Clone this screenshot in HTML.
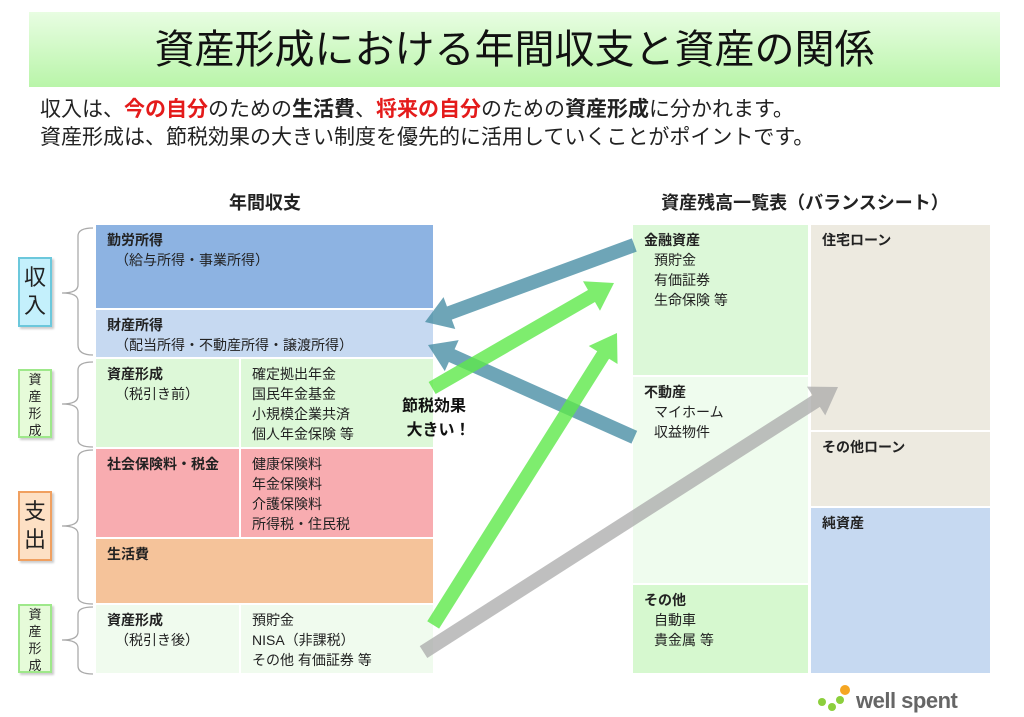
<!DOCTYPE html>
<html><head><meta charset="utf-8"><style>
body{margin:0;width:1024px;height:717px;background:#fff;position:relative;overflow:hidden;font-family:"Liberation Sans","Noto Sans CJK JP",sans-serif;color:#222}
.a{position:absolute;box-sizing:border-box}
.t{font-size:14px;line-height:20px;padding:5px 0 0 11px}
.t b{display:block}
.t span{display:block;padding-left:8px}
.c{font-size:14px;line-height:20px;padding:5px 0 0 11px}
.lab{border:2px solid;font-size:22px;line-height:28px;text-align:center;box-shadow:2px 2px 2px #ccc}
.sm{font-size:13px;line-height:17px;text-align:center;border:2px solid #9ee88a;background:#e6fbd9;box-shadow:2px 2px 2px #ccc}
</style></head><body>
<div class="a" style="left:29px;top:12px;width:971px;height:75px;background:linear-gradient(#e8fde2,#b9f5a9)"></div>
<div class="a" style="left:29px;top:25px;width:971px;text-align:center;font-size:40px;line-height:50px;color:#111">資産形成における年間収支と資産の関係</div>
<div class="a" style="left:40px;top:96px;font-size:21px;line-height:28px;color:#222;white-space:nowrap">収入は、<b style="color:#e41b1b">今の自分</b>のための<b>生活費</b>、<b style="color:#e41b1b">将来の自分</b>のための<b>資産形成</b>に分かれます。<br>資産形成は、節税効果の大きい制度を優先的に活用していくことがポイントです。</div>
<div class="a" style="left:210px;top:189px;width:110px;text-align:center;font-size:18px;font-weight:bold">年間収支</div>
<div class="a" style="left:620px;top:189px;width:370px;text-align:center;font-size:18px;font-weight:bold">資産残高一覧表（バランスシート）</div>

<div class="a t" style="left:96px;top:225px;width:337px;height:83px;background:#8db3e2"><b>勤労所得</b><span>（給与所得・事業所得）</span></div>
<div class="a t" style="left:96px;top:310px;width:337px;height:47px;background:#c6d9f1"><b>財産所得</b><span>（配当所得・不動産所得・譲渡所得）</span></div>
<div class="a t" style="left:96px;top:359px;width:143px;height:88px;background:#ddf8d8"><b>資産形成</b><span>（税引き前）</span></div>
<div class="a c" style="left:241px;top:359px;width:192px;height:88px;background:#ddf8d8">確定拠出年金<br>国民年金基金<br>小規模企業共済<br>個人年金保険 等</div>
<div class="a t" style="left:96px;top:449px;width:143px;height:88px;background:#f8acb0"><b>社会保険料・税金</b></div>
<div class="a c" style="left:241px;top:449px;width:192px;height:88px;background:#f8acb0">健康保険料<br>年金保険料<br>介護保険料<br>所得税・住民税</div>
<div class="a t" style="left:96px;top:539px;width:337px;height:64px;background:#f5c39a"><b>生活費</b></div>
<div class="a t" style="left:96px;top:605px;width:143px;height:68px;background:#f0fbee"><b>資産形成</b><span>（税引き後）</span></div>
<div class="a c" style="left:241px;top:605px;width:192px;height:68px;background:#f0fbee">預貯金<br>NISA（非課税）<br>その他 有価証券 等</div>

<div class="a lab" style="left:18px;top:257px;width:34px;height:70px;border-color:#6cc8dc;background:#c4f0fc;padding-top:5px">収<br>入</div>
<div class="a sm" style="left:18px;top:369px;width:34px;height:69px;padding-top:0">資<br>産<br>形<br>成</div>
<div class="a lab" style="left:18px;top:491px;width:34px;height:70px;border-color:#f0a060;background:#fde0c4;padding-top:5px">支<br>出</div>
<div class="a sm" style="left:18px;top:604px;width:34px;height:69px">資<br>産<br>形<br>成</div>

<div class="a c" style="left:633px;top:225px;width:175px;height:150px;background:#dcf8d8"><b>金融資産</b><span style="padding-left:10px;display:block">預貯金<br>有価証券<br>生命保険 等</span></div>
<div class="a c" style="left:633px;top:377px;width:175px;height:206px;background:#effcee"><b>不動産</b><span style="padding-left:10px;display:block">マイホーム<br>収益物件</span></div>
<div class="a c" style="left:633px;top:585px;width:175px;height:88px;background:#d6f8cf"><b>その他</b><span style="padding-left:10px;display:block">自動車<br>貴金属 等</span></div>
<div class="a c" style="left:811px;top:225px;width:179px;height:205px;background:#edeae0"><b>住宅ローン</b></div>
<div class="a c" style="left:811px;top:432px;width:179px;height:74px;background:#edeae0"><b>その他ローン</b></div>
<div class="a c" style="left:811px;top:508px;width:179px;height:165px;background:#c6d9f1"><b>純資産</b></div>

<svg class="a" style="left:0;top:0" width="1024" height="717">
<g fill="none" stroke="#aaa" stroke-width="1.3">
<path d="M93,228 Q78,228 78,236 L78,285 Q78,293 62,293 Q78,293 78,301 L78,345 Q78,355 93,355"/>
<path d="M93,362 Q78,362 78,370 L78,396 Q78,404 62,404 Q78,404 78,412 L78,440 Q78,447 93,447"/>
<path d="M93,450 Q78,450 78,458 L78,518 Q78,526 62,526 Q78,526 78,534 L78,597 Q78,604 93,604"/>
<path d="M93,607 Q78,607 78,614 L78,632 Q78,640 62,640 Q78,640 78,648 L78,666 Q78,674 93,674"/>
</g>
<g transform="translate(838,387) rotate(-32.6)" fill="#aaa" opacity=".75"><polygon points="-492,-7 -26,-7 -26,-17 0,0 -26,17 -26,7 -492,7"/></g>
<g transform="translate(425,322) rotate(159.8)" fill="#4a8fa5" opacity=".8"><polygon points="-223,-7 -26,-7 -26,-17 0,0 -26,17 -26,7 -223,7"/></g>
<g transform="translate(428,345) rotate(204.1)" fill="#4a8fa5" opacity=".8"><polygon points="-226,-7 -26,-7 -26,-17 0,0 -26,17 -26,7 -226,7"/></g>
<g transform="translate(614,283) rotate(-30)" fill="#5ee84a" opacity=".8"><polygon points="-210,-7 -26,-7 -26,-17 0,0 -26,17 -26,7 -210,7"/></g>
<g transform="translate(617,333) rotate(-57.8)" fill="#5ee84a" opacity=".8"><polygon points="-345,-7 -26,-7 -26,-17 0,0 -26,17 -26,7 -345,7"/></g>
<circle cx="822" cy="702" r="4" fill="#8ccf3c"/><circle cx="832" cy="707" r="4" fill="#8ccf3c"/><circle cx="840" cy="700" r="4" fill="#8ccf3c"/><circle cx="845" cy="690" r="5" fill="#f5a623"/>
</svg>
<div class="a" style="left:402px;top:395px;font-size:16px;line-height:24px;font-weight:bold;color:#111">節税効果<br>&nbsp;大きい！</div>
<div class="a" style="left:856px;top:688px;font-size:22px;font-weight:bold;color:#666;letter-spacing:-0.5px">well spent</div>
</body></html>
